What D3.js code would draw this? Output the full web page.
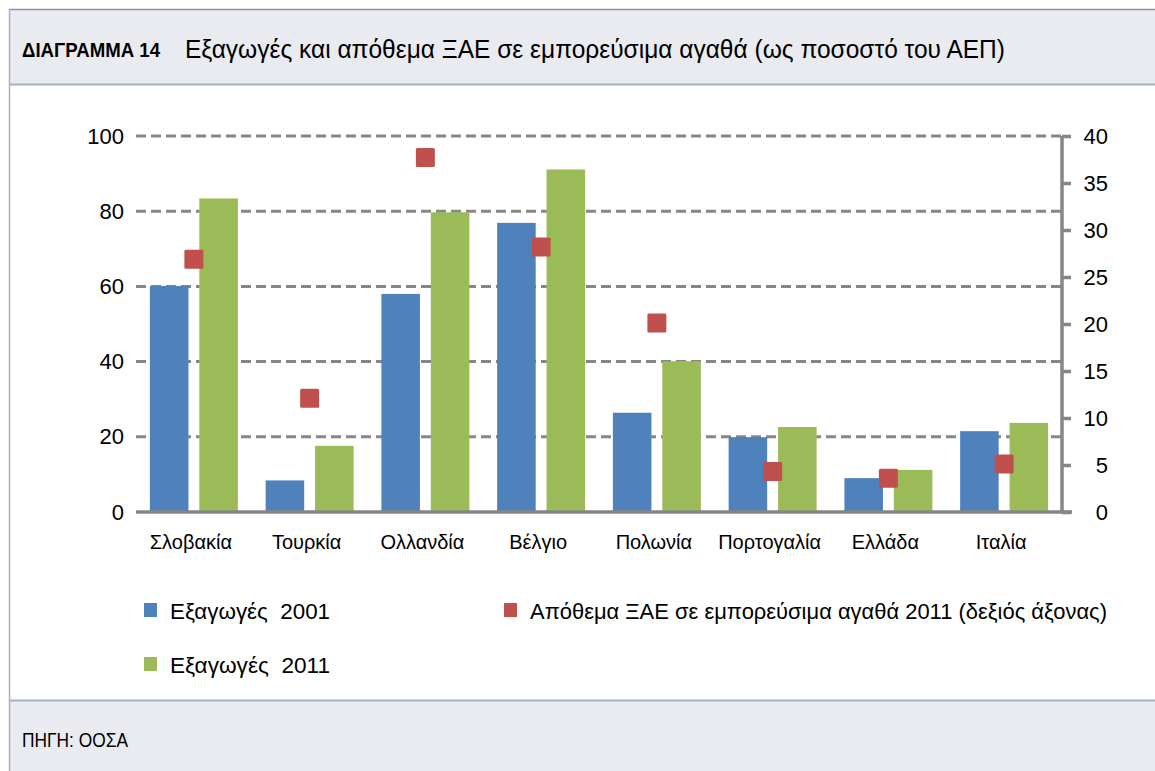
<!DOCTYPE html>
<html>
<head>
<meta charset="utf-8">
<script src="https://cdn.jsdelivr.net/npm/d3@7"></script>
<style>
  html, body { margin: 0; padding: 0; background: #ffffff; }
  svg { display: block; }
  text { font-family: "Liberation Sans", Arial, sans-serif; fill: #000; white-space: pre; }
</style>
</head>
<body>
<svg id="chart" width="1155" height="771"></svg>
<script>
// ---- Data ----
const categories = ["Σλοβακία", "Τουρκία", "Ολλανδία", "Βέλγιο", "Πολωνία", "Πορτογαλία", "Ελλάδα", "Ιταλία"];
const exports2001 = [60.1, 8.4, 58.0, 76.9, 26.4, 19.9, 9.0, 21.5];
const exports2011 = [83.4, 17.6, 79.7, 91.1, 40.1, 22.6, 11.2, 23.7];
const fdiStock2011 = [26.9, 12.1, 37.7, 28.2, 20.1, 4.3, 3.6, 5.1];
const leftTicks = [0, 20, 40, 60, 80, 100];
const rightTicks = [0, 5, 10, 15, 20, 25, 30, 35, 40];
const seriesNames = ["Εξαγωγές  2001", "Εξαγωγές  2011", "Απόθεμα ΞΑΕ σε εμπορεύσιμα αγαθά 2011 (δεξιός άξονας)"];
const seriesColors = ["#4f81bd", "#9bbb59", "#c0504d"];
const titleLabel = "ΔΙΑΓΡΑΜΜΑ 14";
const titleText = "Εξαγωγές και απόθεμα ΞΑΕ σε εμπορεύσιμα αγαθά (ως ποσοστό του ΑΕΠ)";
const sourceText = "ΠΗΓΗ: ΟΟΣΑ";

// ---- Layout ----
const svg = d3.select("#chart");
const W = 1155, H = 771;
const plot = { left: 136, right: 1062, top: 136, bottom: 512 };
const gridColor = "#868686";
const bandFill = "#e9ebf0";

// Frame bands
svg.append("rect").attr("x", 9.5).attr("y", 9.5).attr("width", W).attr("height", 75)
  .attr("fill", bandFill).attr("stroke", "none");
svg.append("line").attr("x1", 9).attr("x2", W).attr("y1", 9.5).attr("y2", 9.5)
  .attr("stroke", "#8795ae").attr("stroke-width", 1.5);
svg.append("line").attr("x1", 9).attr("x2", W).attr("y1", 84.5).attr("y2", 84.5)
  .attr("stroke", "#a6b1c6").attr("stroke-width", 2);
svg.append("rect").attr("x", 9.5).attr("y", 700).attr("width", W).attr("height", H - 700)
  .attr("fill", bandFill);
svg.append("line").attr("x1", 9).attr("x2", W).attr("y1", 700.5).attr("y2", 700.5)
  .attr("stroke", "#a6b1c6").attr("stroke-width", 2);
svg.append("line").attr("x1", 9.5).attr("x2", 9.5).attr("y1", 9).attr("y2", H)
  .attr("stroke", "#a6b1c6").attr("stroke-width", 1.5);

// Title
svg.append("text").attr("x", 22).attr("y", 57).attr("font-size", 20).attr("font-weight", "bold")
  .attr("textLength", 138).attr("lengthAdjust", "spacingAndGlyphs").text(titleLabel);
svg.append("text").attr("x", 185).attr("y", 57.5).attr("font-size", 25)
  .attr("textLength", 820).attr("lengthAdjust", "spacingAndGlyphs").text(titleText);

// Source
svg.append("text").attr("x", 22).attr("y", 747).attr("font-size", 21)
  .attr("textLength", 106).attr("lengthAdjust", "spacingAndGlyphs").text(sourceText);

// ---- Scales ----
const x0 = d3.scaleBand().domain(categories).range([plot.left, plot.right])
  .paddingInner(0.24).paddingOuter(0.12);
const x1 = d3.scaleBand().domain([0, 1]).range([0, x0.bandwidth()]).paddingInner(0.22);
const yL = d3.scaleLinear().domain([0, 100]).range([plot.bottom, plot.top]);
const yR = d3.scaleLinear().domain([0, 40]).range([plot.bottom, plot.top]);

// Gridlines (dashed)
svg.append("g").selectAll("line").data(leftTicks.filter(d => d > 0)).join("line")
  .attr("x1", plot.left).attr("x2", plot.right)
  .attr("y1", d => yL(d)).attr("y2", d => yL(d))
  .attr("stroke", gridColor).attr("stroke-width", 3).attr("stroke-dasharray", "10,5");

// Bars
const groups = svg.append("g").selectAll("g").data(categories).join("g")
  .attr("transform", d => `translate(${x0(d)},0)`);
groups.append("rect")
  .attr("x", x1(0)).attr("width", x1.bandwidth())
  .attr("y", (d, i) => yL(exports2001[i])).attr("height", (d, i) => yL(0) - yL(exports2001[i]))
  .attr("fill", seriesColors[0]);
groups.append("rect")
  .attr("x", x1(1)).attr("width", x1.bandwidth())
  .attr("y", (d, i) => yL(exports2011[i])).attr("height", (d, i) => yL(0) - yL(exports2011[i]))
  .attr("fill", seriesColors[1]);

// Baseline
svg.append("line").attr("x1", plot.left).attr("x2", plot.right + 10)
  .attr("y1", plot.bottom).attr("y2", plot.bottom)
  .attr("stroke", gridColor).attr("stroke-width", 3.5);

// Right axis
const rightAxis = d3.axisRight(yR).tickValues(rightTicks).tickSize(9).tickPadding(12);
const gR = svg.append("g").attr("transform", `translate(${plot.right},0)`).call(rightAxis);
gR.select(".domain").attr("stroke", gridColor).attr("stroke-width", 3.5)
  .attr("d", `M0,${plot.top}V${plot.bottom}`);
gR.selectAll(".tick line").attr("stroke", gridColor).attr("stroke-width", 3.5);
gR.selectAll(".tick text").attr("font-size", 22).attr("font-family", "'Liberation Sans', sans-serif")
  .attr("fill", "#000").attr("text-anchor", "end").attr("x", 46);

// Left axis (labels only)
const leftAxis = d3.axisLeft(yL).tickValues(leftTicks).tickSize(0).tickPadding(12);
const gL = svg.append("g").attr("transform", `translate(${plot.left},0)`).call(leftAxis);
gL.select(".domain").remove();
gL.selectAll(".tick text").attr("font-size", 22).attr("font-family", "'Liberation Sans', sans-serif")
  .attr("fill", "#000");

// Category labels
const bottomAxis = d3.axisBottom(x0).tickSize(0).tickPadding(23);
const gB = svg.append("g").attr("transform", `translate(0,${plot.bottom})`).call(bottomAxis);
gB.select(".domain").remove();
gB.selectAll(".tick text").attr("font-size", 20).attr("font-family", "'Liberation Sans', sans-serif")
  .attr("fill", "#000").attr("dx", -3);

// FDI markers (right axis)
const sq = 19;
svg.append("g").selectAll("rect").data(categories).join("rect")
  .attr("x", d => x0(d) + x0.bandwidth() / 2 - sq / 2)
  .attr("y", (d, i) => yR(fdiStock2011[i]) - sq / 2)
  .attr("width", sq).attr("height", sq).attr("rx", 1.5)
  .attr("fill", seriesColors[2]);

// Legend
const legendItems = [
  { name: seriesNames[0], color: seriesColors[0], x: 144, y: 603, w: 160 },
  { name: seriesNames[1], color: seriesColors[1], x: 144, y: 657, w: 160 },
  { name: seriesNames[2], color: seriesColors[2], x: 504, y: 603, w: 577 }
];
const lg = svg.append("g").selectAll("g").data(legendItems).join("g");
lg.append("rect").attr("x", d => d.x).attr("y", d => d.y).attr("width", 13).attr("height", 14)
  .attr("fill", d => d.color);
lg.append("text").attr("x", d => d.x + 26).attr("y", d => d.y + 15.5).attr("font-size", 22)
  .attr("textLength", d => d.w).attr("lengthAdjust", "spacingAndGlyphs")
  .text(d => d.name);
</script>
</body>
</html>
